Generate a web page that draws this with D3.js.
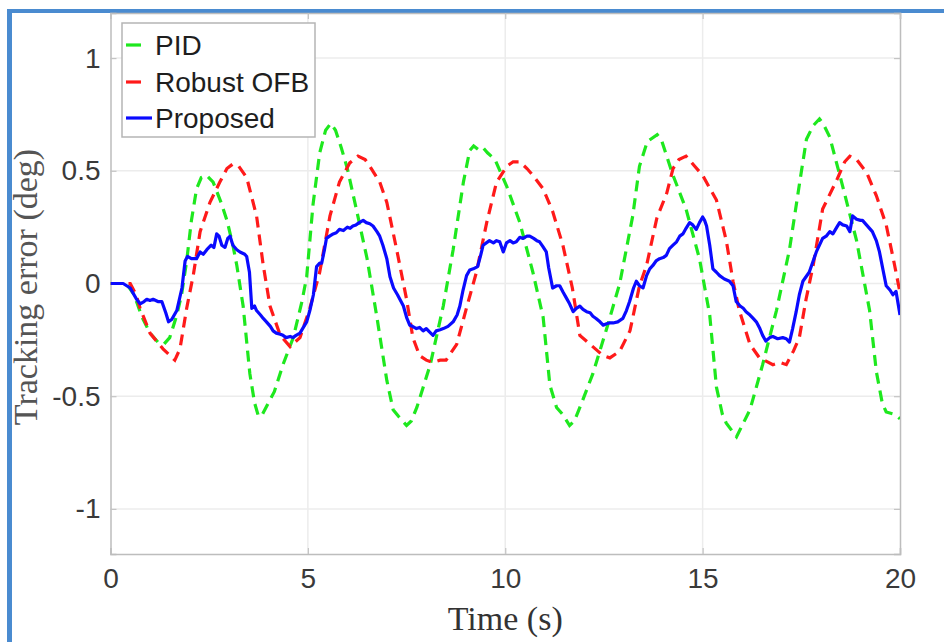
<!DOCTYPE html>
<html>
<head>
<meta charset="utf-8">
<script src="https://cdn.jsdelivr.net/npm/d3@7"></script>
<style>
  body { margin: 0; background: #fff; }
  svg { display: block; }
</style>
</head>
<body>
<div id="chart"></div>
<script>
// PID (green dashed)
const pidT = [0,0.4,0.6,0.8,1.0,1.2,1.35,1.5,1.68,1.8,1.93,2.05,2.18,2.3,2.43,2.6,2.8,2.95,3.1,3.2,3.36,3.53,3.65,3.75,3.85,4.0,4.15,4.37,4.63,4.85,4.97,5.13,5.3,5.45,5.58,5.7,5.85,6.0,6.24,6.5,6.74,7.0,7.16,7.3,7.5,7.62,7.76,8.1,8.43,8.68,8.94,9.1,9.2,9.35,9.45,9.55,9.74,10.04,10.37,10.7,10.96,11.13,11.3,11.45,11.63,11.75,11.89,12.22,12.57,12.9,13.23,13.4,13.6,13.85,13.95,14.25,14.58,14.92,15.18,15.35,15.5,15.6,15.86,16.0,16.2,16.52,16.87,17.2,17.46,17.63,17.8,17.96,18.05,18.22,18.55,18.9,19.23,19.4,19.55,19.65,19.85,20];
const pidY = [0,0,-0.05,-0.15,-0.22,-0.26,-0.27,-0.24,-0.14,-0.05,0.10,0.28,0.42,0.47,0.48,0.45,0.36,0.28,0.17,0.08,-0.10,-0.40,-0.53,-0.59,-0.58,-0.53,-0.48,-0.36,-0.24,-0.08,0.03,0.35,0.58,0.68,0.71,0.68,0.60,0.51,0.32,0.11,-0.14,-0.43,-0.56,-0.59,-0.63,-0.61,-0.55,-0.36,-0.10,0.15,0.45,0.59,0.61,0.59,0.60,0.58,0.55,0.43,0.27,0.05,-0.15,-0.45,-0.55,-0.58,-0.63,-0.61,-0.55,-0.40,-0.20,0.0,0.30,0.52,0.63,0.66,0.64,0.48,0.33,0.11,-0.14,-0.46,-0.58,-0.62,-0.68,-0.63,-0.56,-0.36,-0.12,0.15,0.45,0.64,0.70,0.73,0.71,0.65,0.43,0.19,-0.12,-0.39,-0.53,-0.57,-0.58,-0.60];

// Robust OFB (red dashed)
const ofbT = [0,0.5,0.65,0.75,1.0,1.33,1.63,1.76,1.93,2.1,2.27,2.52,2.77,2.95,3.1,3.25,3.45,3.7,3.87,4.04,4.3,4.55,4.8,5.05,5.3,5.56,5.8,6.06,6.27,6.45,6.57,6.82,7.0,7.25,7.5,7.66,7.83,8.0,8.17,8.35,8.5,8.77,9.0,9.27,9.53,9.78,10.04,10.2,10.37,10.55,10.7,10.96,11.2,11.46,11.7,11.89,12.15,12.48,12.65,12.9,13.16,13.4,13.58,13.84,14.09,14.25,14.4,14.58,14.8,15.0,15.35,15.6,15.77,15.93,16.2,16.44,16.78,16.95,17.12,17.3,17.45,17.62,17.8,18.04,18.4,18.6,18.73,18.9,19.16,19.4,19.65,19.83,20];
const ofbY = [0,0,-0.05,-0.11,-0.22,-0.29,-0.34,-0.29,-0.11,0.04,0.23,0.36,0.45,0.51,0.53,0.52,0.47,0.30,0.08,-0.10,-0.23,-0.28,-0.24,-0.11,0.05,0.30,0.45,0.535,0.565,0.55,0.52,0.45,0.36,0.15,-0.07,-0.24,-0.32,-0.34,-0.35,-0.34,-0.34,-0.27,-0.12,0.05,0.27,0.45,0.52,0.54,0.54,0.51,0.48,0.42,0.32,0.17,-0.02,-0.23,-0.27,-0.32,-0.33,-0.30,-0.21,-0.01,0.08,0.29,0.40,0.51,0.55,0.565,0.52,0.48,0.37,0.19,0.01,-0.12,-0.27,-0.33,-0.36,-0.35,-0.36,-0.30,-0.24,-0.07,0.08,0.33,0.46,0.54,0.565,0.55,0.49,0.39,0.26,0.11,-0.04];

// Proposed (blue solid)
const propT = [0,0.32,0.5,0.66,0.75,0.85,0.92,1.0,1.08,1.2,1.3,1.4,1.47,1.55,1.68,1.81,1.89,1.95,2.05,2.18,2.27,2.35,2.44,2.55,2.62,2.69,2.75,2.82,2.9,2.97,3.03,3.1,3.2,3.28,3.4,3.45,3.52,3.58,3.65,3.7,3.8,3.87,3.95,4.05,4.12,4.2,4.3,4.37,4.45,4.55,4.62,4.7,4.8,4.9,4.97,5.05,5.14,5.22,5.3,5.35,5.42,5.47,5.55,5.64,5.72,5.8,5.9,6.0,6.07,6.14,6.22,6.3,6.4,6.48,6.57,6.65,6.75,6.82,6.9,7.0,7.08,7.17,7.27,7.33,7.42,7.5,7.58,7.65,7.75,7.83,7.92,8.0,8.08,8.17,8.25,8.35,8.43,8.55,8.68,8.78,8.85,8.93,9.02,9.1,9.19,9.3,9.37,9.44,9.52,9.6,9.7,9.78,9.86,9.95,10.03,10.12,10.2,10.28,10.37,10.45,10.55,10.62,10.72,10.8,10.87,10.95,11.04,11.1,11.2,11.3,11.38,11.47,11.55,11.63,11.72,11.8,11.89,11.97,12.06,12.15,12.22,12.3,12.4,12.48,12.55,12.63,12.73,12.85,12.98,13.07,13.15,13.25,13.32,13.4,13.49,13.58,13.66,13.74,13.82,13.91,14.0,14.08,14.16,14.25,14.34,14.42,14.5,14.58,14.67,14.75,14.84,14.92,15.0,15.05,15.1,15.18,15.26,15.35,15.43,15.55,15.68,15.77,15.85,15.95,16.03,16.1,16.2,16.28,16.36,16.45,16.52,16.6,16.7,16.78,16.9,17.03,17.12,17.2,17.28,17.37,17.45,17.54,17.62,17.7,17.8,17.88,17.96,18.04,18.13,18.22,18.3,18.4,18.47,18.55,18.65,18.73,18.8,18.9,19.0,19.05,19.15,19.3,19.4,19.48,19.57,19.65,19.75,19.82,19.9,20];
const propY = [0,0,-0.02,-0.07,-0.09,-0.08,-0.07,-0.075,-0.07,-0.08,-0.08,-0.13,-0.17,-0.16,-0.12,-0.02,0.10,0.12,0.11,0.11,0.14,0.13,0.15,0.17,0.16,0.22,0.21,0.17,0.16,0.20,0.21,0.17,0.15,0.14,0.13,0.12,0.05,-0.11,-0.10,-0.12,-0.14,-0.155,-0.17,-0.19,-0.21,-0.22,-0.225,-0.23,-0.24,-0.235,-0.24,-0.23,-0.22,-0.19,-0.17,-0.12,-0.05,0.075,0.09,0.09,0.15,0.20,0.21,0.22,0.225,0.24,0.235,0.25,0.245,0.255,0.26,0.27,0.28,0.27,0.265,0.255,0.23,0.21,0.17,0.11,0.03,-0.02,-0.05,-0.07,-0.10,-0.15,-0.185,-0.19,-0.20,-0.195,-0.21,-0.20,-0.215,-0.23,-0.21,-0.205,-0.20,-0.19,-0.17,-0.14,-0.10,-0.03,0.035,0.06,0.065,0.075,0.12,0.17,0.18,0.19,0.18,0.19,0.185,0.14,0.18,0.19,0.18,0.185,0.205,0.20,0.21,0.21,0.20,0.19,0.185,0.165,0.14,0.07,-0.02,-0.01,-0.01,-0.04,-0.065,-0.09,-0.125,-0.11,-0.10,-0.115,-0.125,-0.13,-0.145,-0.155,-0.17,-0.185,-0.18,-0.175,-0.175,-0.17,-0.155,-0.12,-0.08,-0.02,0.01,-0.01,-0.02,0.035,0.065,0.08,0.10,0.11,0.115,0.125,0.155,0.17,0.185,0.21,0.22,0.245,0.27,0.26,0.24,0.27,0.295,0.28,0.255,0.17,0.065,0.05,0.035,0.02,0.01,-0.01,-0.08,-0.10,-0.11,-0.125,-0.14,-0.155,-0.17,-0.20,-0.23,-0.255,-0.24,-0.235,-0.245,-0.24,-0.245,-0.26,-0.20,-0.125,-0.05,0.01,0.03,0.05,0.10,0.14,0.17,0.20,0.21,0.23,0.22,0.25,0.27,0.26,0.255,0.23,0.30,0.285,0.28,0.28,0.26,0.23,0.19,0.14,0.06,-0.01,-0.03,-0.05,-0.035,-0.14];

const xTicks = [0, 5, 10, 15, 20];
const yTicks = [-1, -0.5, 0, 0.5, 1];
const legendLabels = ["PID", "Robust OFB", "Proposed"];

const W = 944, H = 642;
const mLeft = 110.5, mRight = 900, mTop = 13, mBottom = 554;

const svg = d3.select("#chart").append("svg")
  .attr("width", W)
  .attr("height", H);

// blue frame around the figure
svg.append("rect").attr("x", 7).attr("y", 9).attr("width", W - 7).attr("height", 4).attr("fill", "#4a8bd0");
svg.append("rect").attr("x", 7).attr("y", 9).attr("width", 5).attr("height", H - 9).attr("fill", "#4a8bd0");

const x = d3.scaleLinear().domain([0, 20]).range([mLeft, mRight]);
const y = d3.scaleLinear().domain([-1.2, 1.2]).range([mBottom, mTop]);

// grid
svg.append("g").selectAll("line").data(xTicks.slice(1, -1)).enter().append("line")
  .attr("x1", (d) => x(d)).attr("x2", (d) => x(d))
  .attr("y1", mTop).attr("y2", mBottom)
  .attr("stroke", "#ececec").attr("stroke-width", 1.5);
svg.append("g").selectAll("line").data(yTicks).enter().append("line")
  .attr("x1", mLeft).attr("x2", mRight)
  .attr("y1", (d) => y(d)).attr("y2", (d) => y(d))
  .attr("stroke", "#ececec").attr("stroke-width", 1.5);

// axes
const xAxis = svg.append("g")
  .attr("transform", `translate(0,${mBottom})`)
  .call(d3.axisBottom(x).tickValues(xTicks).tickSize(-6).tickPadding(14).tickFormat(d3.format("d")));
const yAxis = svg.append("g")
  .attr("transform", `translate(${mLeft},0)`)
  .call(d3.axisLeft(y).tickValues(yTicks).tickSize(-6).tickPadding(10).tickFormat((d) => d));
svg.append("g")
  .attr("transform", `translate(${mRight},0)`)
  .call(d3.axisRight(y).tickValues(yTicks).tickSize(-6).tickFormat(""));
svg.append("g")
  .attr("transform", `translate(0,${mTop})`)
  .call(d3.axisTop(x).tickValues(xTicks).tickSize(-6).tickFormat(""));

svg.selectAll(".domain").attr("stroke", "#bdbdbd").attr("stroke-width", 1.5);
svg.selectAll(".tick line").attr("stroke", "#c4c4c4").attr("stroke-width", 1.2);
svg.selectAll(".tick text")
  .attr("fill", "#3a3a3a")
  .style("font-family", "Liberation Sans, Arial, sans-serif")
  .style("font-size", "28px");

// curves
svg.append("clipPath").attr("id", "clip").append("rect")
  .attr("x", mLeft).attr("y", mTop).attr("width", mRight - mLeft).attr("height", mBottom - mTop);

const line = d3.line().x((d) => x(d[0])).y((d) => y(d[1]));
const plot = svg.append("g").attr("clip-path", "url(#clip)");

plot.append("path")
  .attr("d", line(pidT.map((t, i) => [t, pidY[i]])))
  .attr("fill", "none").attr("stroke", "#1ee81e").attr("stroke-width", 3.2)
  .attr("stroke-dasharray", "11,7");
plot.append("path")
  .attr("d", line(ofbT.map((t, i) => [t, ofbY[i]])))
  .attr("fill", "none").attr("stroke", "#ff1a1a").attr("stroke-width", 3.2)
  .attr("stroke-dasharray", "11,7");
plot.append("path")
  .attr("d", line(propT.map((t, i) => [t, propY[i]])))
  .attr("fill", "none").attr("stroke", "#0a0aff").attr("stroke-width", 3.2)
  .attr("stroke-linejoin", "round");

// legend
const lg = svg.append("g");
lg.append("rect").attr("x", 122).attr("y", 23).attr("width", 193).attr("height", 114)
  .attr("fill", "#fff").attr("stroke", "#b5b5b5").attr("stroke-width", 1.5);
const legendColors = ["#1ee81e", "#ff1a1a", "#0a0aff"];
const legendY = [45, 82, 118];
legendLabels.forEach((lab, i) => {
  lg.append("line")
    .attr("x1", 126).attr("x2", i < 2 ? 141 : 152)
    .attr("y1", legendY[i]).attr("y2", legendY[i])
    .attr("stroke", legendColors[i]).attr("stroke-width", 3.2);
  lg.append("text")
    .attr("x", 155).attr("y", legendY[i]).attr("dy", "0.36em")
    .attr("fill", "#1e1e1e")
    .style("font-family", "Liberation Sans, Arial, sans-serif")
    .style("font-size", "28px")
    .text(lab);
});

// axis titles
svg.append("text")
  .attr("x", (mLeft + mRight) / 2).attr("y", 630)
  .attr("text-anchor", "middle")
  .attr("fill", "#333")
  .style("font-family", "Liberation Serif, Times New Roman, serif")
  .style("font-size", "34px")
  .text("Time (s)");
svg.append("text")
  .attr("transform", `translate(37,${287}) rotate(-90)`)
  .attr("text-anchor", "middle")
  .attr("fill", "#555")
  .style("font-family", "Liberation Serif, Times New Roman, serif")
  .style("font-size", "34px")
  .text("Tracking error (deg)");
</script>
</body>
</html>
